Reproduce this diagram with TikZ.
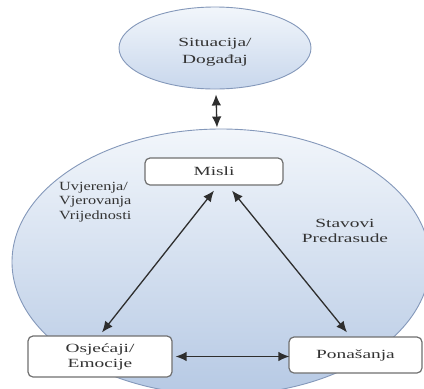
\documentclass[tikz,border=0pt]{standalone}
\usepackage{fontspec}
\setmainfont{Liberation Serif}
\newfontfamily\wideserif{Liberation Serif}[FakeStretch=1.55]
\newfontfamily\midserif{Liberation Serif}[FakeStretch=1.3]
\usetikzlibrary{shapes.geometric,arrows.meta}
\definecolor{txt}{HTML}{333333}
\definecolor{boxline}{HTML}{707070}
\definecolor{ellline}{HTML}{8498BA}
\definecolor{arrowc}{HTML}{2E2E2E}
\definecolor{blueA}{HTML}{F2F6FB}
\definecolor{blueB}{HTML}{B6C9E4}
\definecolor{blueC}{HTML}{C8D7EC}
\tikzset{
  cloud/.style={ellipse, draw=ellline, line width=0.9pt, inner sep=0pt},
  stepbox/.style={rectangle, rounded corners=5pt, draw=boxline, line width=1.2pt,
    fill=white, inner sep=0pt, align=center, text=txt,
    font=\wideserif\fontsize{12.5}{15}\selectfont},
  lbl/.style={inner sep=0pt, text=txt, font=\fontsize{12.5}{14.5}\selectfont},
  biarrow/.style={draw=arrowc, line width=1.3pt,
    {Latex[length=11pt,width=9.5pt]}-{Latex[length=11pt,width=9.5pt]}}
}
\begin{document}
\begin{tikzpicture}[x=1pt,y=-1pt]
\useasboundingbox[fill=white] (0,0) rectangle (424,389);
% ellipses
\node[cloud, top color=blueA, bottom color=blueC, minimum width=192pt, minimum height=82pt] (sit) at (215,48) {};
\node[lbl, font=\wideserif\fontsize{12.5}{16.5}\selectfont, align=center] (sittext) at (215,52) {Situacija/\\Događaj};
\node[cloud, top color=blueA, bottom color=blueB, minimum width=418pt, minimum height=266pt] (big) at (221,262) {};
% boxes
\node[stepbox, minimum width=138pt, minimum height=27pt] (misli) at (214,171.5) {Misli};
\node[stepbox, minimum width=144pt, minimum height=41pt] (osj) at (100,356.5) {Osjećaji/\\Emocije};
\node[stepbox, minimum width=133pt, minimum height=36pt] (pon) at (355.5,355) {Ponašanja};
% labels
\node[lbl, font=\midserif\fontsize{12.5}{14.5}\selectfont, align=left, anchor=north west] (uvj) at (59,182) {Uvjerenja/\\Vjerovanja\\Vrijednosti};
\node[lbl, font=\wideserif\fontsize{12.5}{15}\selectfont, align=center, anchor=north] (stav) at (345,219) {Stavovi\\Predrasude};
% arrows
\draw[biarrow] ([xshift=1pt,yshift=-5pt]sit.south) -- ([xshift=-4pt,yshift=1pt]big.north);
\draw[biarrow] ([yshift=-5pt]misli.south) -- ([xshift=2pt,yshift=3pt]osj.north);
\draw[biarrow] ([xshift=18pt,yshift=-5pt]misli.south) -- ([xshift=-8.5pt,yshift=4pt]pon.north);
\draw[biarrow] ([xshift=3pt]osj.east) -- ([xshift=1pt]osj.east -| pon.west);
\end{tikzpicture}
\end{document}
